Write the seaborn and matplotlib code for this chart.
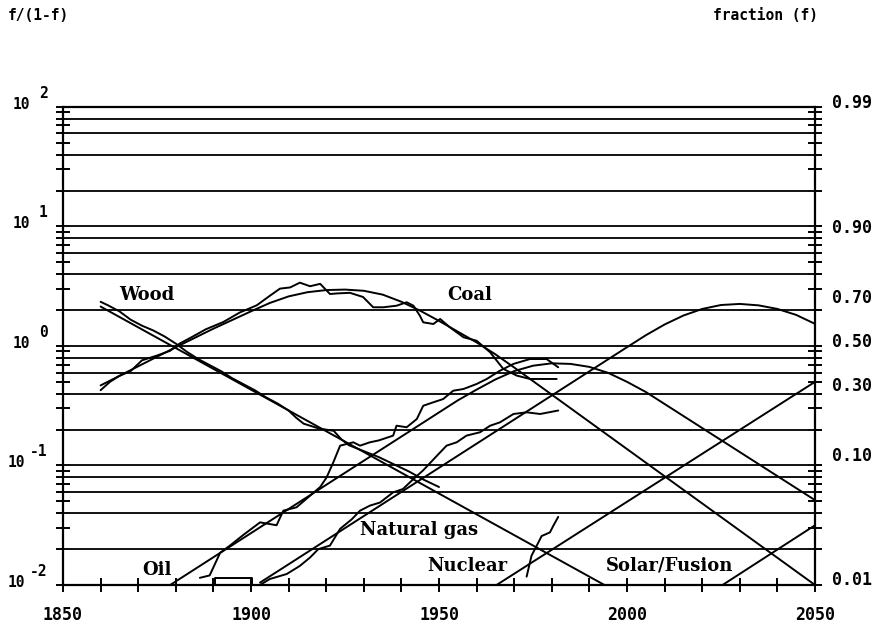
import matplotlib
matplotlib.use("Agg")
import numpy as np
import pandas as pd
import seaborn as sns
import matplotlib.pyplot as plt
from matplotlib.ticker import FixedLocator, NullFormatter

# all values are log10( f/(1-f) )

# fitted (model) curves
wood_fit_years = [1860, 1994]
wood_fit = [0.33, -2.0]

coal_fit_years = [1860, 1870, 1880, 1890, 1900, 1905, 1910, 1915, 1920, 1925, 1930,
                  1935, 1940, 1945, 1950, 1955, 1960, 1965, 1970, 2050]
coal_fit = [-0.33, -0.17, -0.01, 0.145, 0.29, 0.36, 0.415, 0.45, 0.468, 0.472, 0.462,
            0.43, 0.37, 0.295, 0.21, 0.12, 0.03, -0.07, -0.18, -2.0]

oil_fit_years = [1878.5, 1955, 1960, 1965, 1970, 1975, 1980, 1985, 1990, 1995, 2000, 2005, 2050]
oil_fit = [-2.0, -0.455, -0.365, -0.28, -0.21, -0.165, -0.145, -0.15, -0.175, -0.225, -0.30, -0.385, -1.29]

gas_fit_years = [1902.4, 2000, 2005, 2010, 2015, 2020, 2025, 2030, 2035, 2040, 2045, 2050]
gas_fit = [-1.98, -0.01, 0.09, 0.18, 0.255, 0.31, 0.343, 0.352, 0.34, 0.31, 0.26, 0.185]

nuclear_fit_years = [1965.3, 2050]
nuclear_fit = [-2.0, -0.30]

solar_fit_years = [2025.4, 2050]
solar_fit = [-2.0, -1.50]

# historical data
wood_data_years = [1860, 1862, 1865, 1868, 1871, 1874, 1877, 1880, 1883, 1886, 1889, 1892,
                   1895, 1898, 1901, 1904, 1907, 1910, 1912, 1914, 1916, 1918, 1920, 1922,
                   1924, 1926, 1930, 1934, 1938, 1942, 1946, 1950]
wood_data = [0.37, 0.34, 0.29, 0.22, 0.17, 0.13, 0.08, 0.02, -0.05, -0.11, -0.16, -0.21,
             -0.27, -0.32, -0.37, -0.43, -0.48, -0.54, -0.60, -0.65, -0.67, -0.69, -0.70, -0.71,
             -0.78, -0.83, -0.88, -0.93, -0.99, -1.05, -1.12, -1.18]

coal_data_years = [1860, 1862.5, 1865, 1868, 1871, 1875, 1878.5, 1881, 1884, 1888, 1892.6,
                   1897, 1901.5, 1905, 1907.7, 1910.4, 1913, 1915.7, 1918.4, 1921, 1923,
                   1926.3, 1929.8, 1932.5, 1935.2, 1938.7, 1941.4, 1943.2, 1944.9, 1945.8,
                   1948.5, 1950.3, 1952.9, 1956.5, 1960, 1963.6, 1967.1, 1970.7, 1974.2,
                   1977.7, 1981.3]
coal_data = [-0.37, -0.30, -0.25, -0.21, -0.12, -0.08, -0.04, 0.02, 0.07, 0.14, 0.20,
             0.28, 0.34, 0.42, 0.48, 0.49, 0.53, 0.50, 0.52, 0.435, 0.44,
             0.445, 0.41, 0.324, 0.324, 0.337, 0.366, 0.337, 0.254, 0.198,
             0.184, 0.226, 0.156, 0.073, 0.044, -0.053, -0.192, -0.248, -0.276,
             -0.276, -0.276]

oil_data_years = [1886.4, 1889, 1891.8, 1894.4, 1898, 1902.4, 1905, 1906.8, 1908.6, 1912.1,
                  1915.7, 1918.4, 1920.1, 1921.9, 1923.7, 1927.2, 1929, 1931.6, 1934,
                  1937.8, 1938.7, 1941.4, 1944.1, 1945.8, 1948.5, 1951.1, 1953.8, 1956.5,
                  1960, 1962.7, 1966.2, 1969.8, 1974.2, 1978.6, 1981.7]
oil_data = [-1.94, -1.92, -1.73, -1.67, -1.58, -1.476, -1.49, -1.50, -1.378, -1.35,
            -1.253, -1.18, -1.10, -0.973, -0.834, -0.806, -0.834, -0.806, -0.79,
            -0.75, -0.667, -0.68, -0.611, -0.50, -0.471, -0.444, -0.374, -0.36,
            -0.318, -0.276, -0.207, -0.15, -0.109, -0.109, -0.178]

gas_early_years = [1890.4, 1890.4, 1900.2, 1900.2]
gas_early = [-2.0, -1.94, -1.94, -2.0]

gas_data_years = [1902.4, 1905, 1909.5, 1913, 1915.7, 1917.9, 1921, 1923.7, 1926.8, 1929,
                  1931.6, 1934.3, 1937.8, 1940.4, 1943.2, 1945.8, 1948.5, 1952, 1954.7,
                  1957.3, 1960.9, 1963.6, 1966.2, 1969.8, 1973.3, 1976.9, 1981.7]
gas_data = [-2.0, -1.95, -1.908, -1.84, -1.77, -1.70, -1.67, -1.53, -1.45, -1.378,
            -1.336, -1.31, -1.225, -1.197, -1.113, -1.04, -0.95, -0.834, -0.806,
            -0.75, -0.722, -0.667, -0.639, -0.569, -0.555, -0.569, -0.54]

nuclear_data_years = [1973.3, 1974.6, 1976, 1977.3, 1979.5, 1980.4, 1981.7]
nuclear_data = [-1.93, -1.755, -1.67, -1.59, -1.56, -1.504, -1.43]

right_labels = ["0.99", "0.90", "0.70", "0.50", "0.30", "0.10", "0.01"]
left_exponents = ["2", "1", "0", "-1", "-2"]
year_labels = [1850, 1900, 1950, 2000, 2050]

series = {
    "wood_fit": (wood_fit_years, wood_fit),
    "coal_fit": (coal_fit_years, coal_fit),
    "oil_fit": (oil_fit_years, oil_fit),
    "gas_fit": (gas_fit_years, gas_fit),
    "nuclear_fit": (nuclear_fit_years, nuclear_fit),
    "solar_fit": (solar_fit_years, solar_fit),
    "wood_data": (wood_data_years, wood_data),
    "coal_data": (coal_data_years, coal_data),
    "oil_data": (oil_data_years, oil_data),
    "gas_early": (gas_early_years, gas_early),
    "gas_data": (gas_data_years, gas_data),
    "nuclear_data": (nuclear_data_years, nuclear_data),
}
rows = []
for name, (yrs, vals) in series.items():
    for t, v in zip(yrs, vals):
        rows.append((name, t, 10 ** v))
df = pd.DataFrame(rows, columns=["series", "year", "ratio"])

sns.set_theme(style="white")
plt.rcParams["font.family"] = ["DejaVu Sans", "DejaVu Sans Mono"]
plt.rcParams["text.color"] = "black"
mono = dict(family="DejaVu Sans Mono", weight="bold", color="black")
serif = dict(family="DejaVu Serif", weight="bold", color="black")

fig = plt.figure(figsize=(8.86, 6.26), dpi=100)
ax = fig.add_axes([0.0711, 0.0655, 0.8488, 0.7636])
ax.set_yscale("log")

# horizontal rules at 2,4,6,8,10 x 10^k
grid_vals = [m * 10.0 ** k for k in range(-2, 2) for m in (2, 4, 6, 8, 10)]
ax.hlines(grid_vals, 1850, 2050, color="#111111", lw=1.4, zorder=1)

sns.lineplot(data=df, x="year", y="ratio", units="series", estimator=None, sort=False,
             color="black", lw=1.4, ax=ax, zorder=3)

ax.set_xlim(1850, 2050)
ax.set_ylim(0.01, 100)
ax.set_xlabel("")
ax.set_ylabel("")

for sp in ax.spines.values():
    sp.set_linewidth(1.6)
    sp.set_color("black")

ax.xaxis.set_major_locator(FixedLocator(year_labels))
ax.xaxis.set_minor_locator(FixedLocator(list(range(1850, 2051, 10))))
ax.set_xticklabels([str(y) for y in year_labels], fontsize=12, **mono)
ax.tick_params(axis="x", which="both", direction="inout", length=10, width=1.4,
               bottom=True, top=False, pad=10, colors="black")
ax.tick_params(axis="y", which="both", direction="inout", length=10, width=1.4,
               left=True, right=True, labelleft=False, labelright=False, colors="black")
ax.yaxis.set_minor_formatter(NullFormatter())

# right axis: fraction labels
for lab in right_labels:
    f = float(lab)
    ax.annotate(lab, xy=(1, f / (1 - f)), xycoords=("axes fraction", "data"),
                xytext=(12, 3), textcoords="offset points", ha="left", va="center",
                fontsize=12, **mono)

# left axis: powers of ten
for e in left_exponents:
    v = 10.0 ** int(e)
    ax.annotate(e, xy=(0, v), xycoords=("axes fraction", "data"), xytext=(-11, 10),
                textcoords="offset points", ha="right", va="center", fontsize=10.5, **mono)
    ax.annotate("10", xy=(0, v), xycoords=("axes fraction", "data"),
                xytext=(-24 if not e.startswith("-") else -27, 2),
                textcoords="offset points", ha="right", va="center", fontsize=10.5, **mono)

fig.text(38 / 886, 1 - 16 / 626, "f/(1-f)", ha="center", va="center", fontsize=10.5, **mono)
fig.text(818 / 886, 1 - 16 / 626, "fraction (f)", ha="right", va="center", fontsize=10.5, **mono)

# curve names
ax.text(1872.3, 10 ** 0.427, "Wood", ha="center", va="center", fontsize=13, **serif)
ax.text(1958.2, 10 ** 0.427, "Coal", ha="center", va="center", fontsize=13, **serif)
ax.text(1875.0, 10 ** -1.875, "Oil", ha="center", va="center", fontsize=13, **serif)
ax.text(1944.7, 10 ** -1.54, "Natural gas", ha="center", va="center", fontsize=13, **serif)
ax.text(1957.5, 10 ** -1.845, "Nuclear", ha="center", va="center", fontsize=13, **serif)
ax.text(2011.2, 10 ** -1.837, "Solar/Fusion", ha="center", va="center", fontsize=13, **serif)

fig.savefig("out.png", dpi=100, facecolor="white")
